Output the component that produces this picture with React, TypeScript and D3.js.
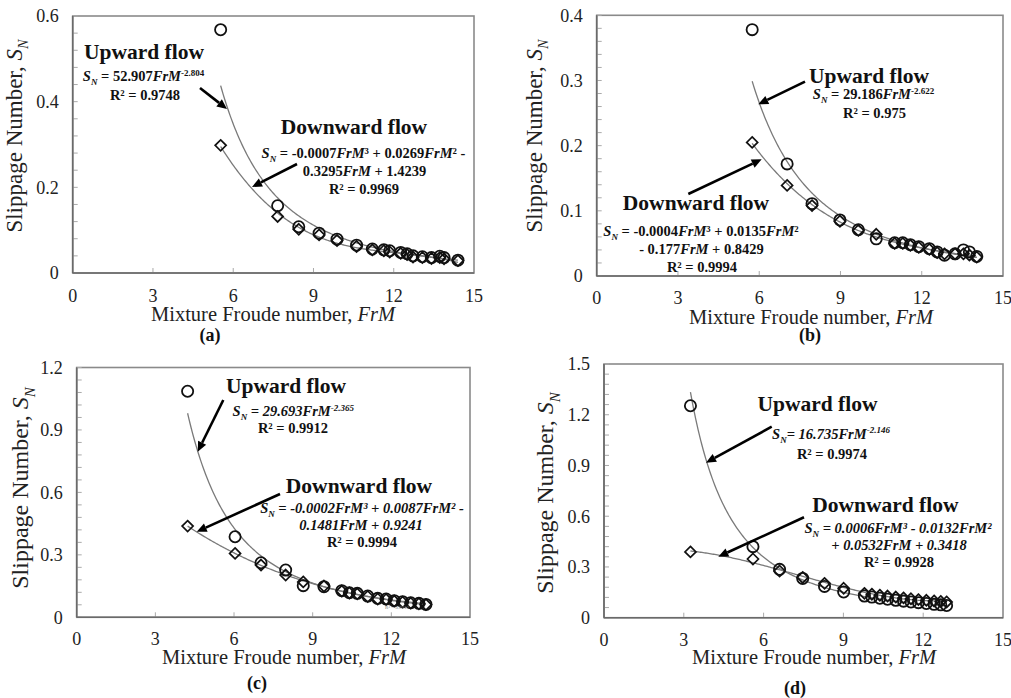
import React from 'react';
import * as d3 from 'd3';

// ---------- data ----------
const xTickValues = [0, 3, 6, 9, 12, 15];

const aYTicks = [0, 0.2, 0.4, 0.6];
const aX = [5.53, 7.66, 8.45, 9.21, 9.88, 10.61, 11.2, 11.63, 11.85, 12.26, 12.5, 12.72, 13.07, 13.41, 13.72, 13.88, 14.4];
const aUpY = [0.568, 0.157, 0.108, 0.093, 0.079, 0.065, 0.056, 0.054, 0.052, 0.048, 0.045, 0.040, 0.038, 0.036, 0.039, 0.036, 0.030];
const aDownY = [0.298, 0.132, 0.102, 0.089, 0.076, 0.062, 0.054, 0.052, 0.049, 0.046, 0.043, 0.037, 0.036, 0.034, 0.036, 0.033, 0.029];
const aPower = [52.907, -2.804];

const bYTicks = [0, 0.1, 0.2, 0.3, 0.4];
const bX = [5.74, 7.03, 7.95, 8.98, 9.66, 10.32, 11.0, 11.3, 11.58, 11.89, 12.28, 12.57, 12.84, 13.23, 13.54, 13.76, 14.03];
const bUpY = [0.378, 0.172, 0.111, 0.086, 0.071, 0.057, 0.051, 0.051, 0.048, 0.045, 0.042, 0.037, 0.032, 0.034, 0.040, 0.037, 0.030];
const bDownY = [0.205, 0.139, 0.108, 0.084, 0.070, 0.064, 0.050, 0.050, 0.047, 0.044, 0.041, 0.036, 0.034, 0.034, 0.034, 0.032, 0.029];
const bPower = [29.186, -2.622];

const cYTicks = [0, 0.3, 0.6, 0.9, 1.2];
const cX = [4.23, 6.04, 7.03, 7.97, 8.64, 9.43, 10.11, 10.4, 10.7, 11.1, 11.48, 11.8, 12.11, 12.43, 12.74, 13.05, 13.32];
const cUpY = [1.086, 0.387, 0.262, 0.227, 0.152, 0.147, 0.128, 0.118, 0.115, 0.102, 0.091, 0.088, 0.080, 0.075, 0.070, 0.067, 0.062];
const cDownY = [0.438, 0.307, 0.251, 0.203, 0.170, 0.150, 0.126, 0.117, 0.113, 0.100, 0.088, 0.086, 0.078, 0.073, 0.068, 0.065, 0.061];
const cPower = [29.693, -2.365];

const dYTicks = [0, 0.3, 0.6, 0.9, 1.2, 1.5];
const dX = [3.25, 5.6, 6.6, 7.47, 8.29, 9.01, 9.79, 10.07, 10.37, 10.66, 10.97, 11.26, 11.54, 11.82, 12.12, 12.41, 12.66, 12.88];
const dUpY = [1.253, 0.42, 0.286, 0.232, 0.185, 0.152, 0.128, 0.122, 0.115, 0.109, 0.103, 0.098, 0.093, 0.089, 0.084, 0.079, 0.076, 0.072];
const dDownY = [0.389, 0.347, 0.276, 0.238, 0.203, 0.174, 0.144, 0.139, 0.133, 0.128, 0.122, 0.117, 0.112, 0.107, 0.103, 0.099, 0.096, 0.093];
const dPower = [16.735, -2.146];

const panelLabels = ['(a)', '(b)', '(c)', '(d)'];
const xTitle = 'Mixture Froude number, ';
const yTitle = 'Slippage Number, ';

// ---------- helpers ----------
function cubicFit(xs: number[], ys: number[]) {
  const mx = d3.mean(xs) as number;
  const sx = (d3.deviation(xs) as number) || 1;
  const n = 4;
  const A = Array.from({ length: n }, () => new Array(n).fill(0));
  const B = new Array(n).fill(0);
  xs.forEach((x, i) => {
    const t = (x - mx) / sx;
    const p = [1, t, t * t, t * t * t];
    for (let j = 0; j < n; j++) {
      B[j] += p[j] * ys[i];
      for (let k = 0; k < n; k++) A[j][k] += p[j] * p[k];
    }
  });
  for (let c = 0; c < n; c++) {
    let piv = c;
    for (let r = c + 1; r < n; r++) if (Math.abs(A[r][c]) > Math.abs(A[piv][c])) piv = r;
    [A[c], A[piv]] = [A[piv], A[c]];
    [B[c], B[piv]] = [B[piv], B[c]];
    for (let r = c + 1; r < n; r++) {
      const f = A[r][c] / A[c][c];
      for (let k = c; k < n; k++) A[r][k] -= f * A[c][k];
      B[r] -= f * B[c];
    }
  }
  const coef = new Array(n).fill(0);
  for (let r = n - 1; r >= 0; r--) {
    let s = B[r];
    for (let k = r + 1; k < n; k++) s -= A[r][k] * coef[k];
    coef[r] = s / A[r][r];
  }
  return (x: number) => {
    const t = (x - mx) / sx;
    return coef[0] + coef[1] * t + coef[2] * t * t + coef[3] * t * t * t;
  };
}

type Piece = { t: string; i?: boolean; sub?: boolean; sup?: boolean };

const FONT = "'Liberation Serif', 'Times New Roman', serif";

function Rich({ x, y, size, pieces, bold = true, italicAll = false, anchor = 'middle', fill = '#111', rotate = 0 }: any) {
  let shift = 0;
  return (
    <text
      x={rotate ? 0 : x}
      y={rotate ? 0 : y}
      transform={rotate ? `translate(${x},${y}) rotate(${rotate})` : undefined}
      textAnchor={anchor}
      fontFamily={FONT}
      fontWeight={bold ? 'bold' : 'normal'}
      fontSize={size}
      fill={fill}
      style={{ whiteSpace: 'pre' }}
    >
      {pieces.map((p: Piece, k: number) => {
        const target = p.sub ? size * 0.28 : p.sup ? -size * 0.35 : 0;
        const dy = target - shift;
        shift = target;
        return (
          <tspan key={k} dy={dy} fontStyle={p.i || italicAll ? 'italic' : 'normal'} fontSize={p.sub || p.sup ? size * 0.62 : size}>
            {p.t}
          </tspan>
        );
      })}
    </text>
  );
}

const SN: Piece[] = [{ t: 'S', i: true }, { t: 'N', i: true, sub: true }];

function Arrow({ x1, y1, x2, y2 }: any) {
  const ang = Math.atan2(y2 - y1, x2 - x1);
  const L = 10, W = 4.5;
  const bx = x2 - L * Math.cos(ang), by = y2 - L * Math.sin(ang);
  const px = -Math.sin(ang) * W, py = Math.cos(ang) * W;
  return (
    <g>
      <line x1={x1} y1={y1} x2={bx} y2={by} stroke="#000" strokeWidth={2.6} />
      <path d={`M${x2},${y2}L${bx + px},${by + py}L${bx - px},${by - py}Z`} fill="#000" />
    </g>
  );
}

// ---------- panels ----------
const panels = [
  {
    left: 72.7, right: 474, top: 16, bottom: 273, yMax: 0.6, yTicks: aYTicks, minor: 0.04,
    xs: aX, up: aUpY, down: aDownY, pow: aPower, xLabOff: 29,
    xTitleX: 273, xTitleY: 321, yTitleX: 22, yTitleY: 136, yTitleSize: 23, labX: 210, labY: 341,
    upHead: { x: 144, y: 59 }, downHead: { x: 354, y: 134 }, italic: false,
    upEq: [{ x: 143.5, y: 81, p: [...SN, { t: ' = 52.907' }, { t: 'FrM', i: true }, { t: '-2.804', sup: true }] }, { x: 145, y: 100, p: [{ t: 'R² = 0.9748' }] }],
    downEq: [
      { x: 363.5, y: 157.5, p: [...SN, { t: ' = -0.0007' }, { t: 'FrM', i: true }, { t: '³ + 0.0269' }, { t: 'FrM', i: true }, { t: '² -' }] },
      { x: 364.5, y: 175.5, p: [{ t: '0.3295' }, { t: 'FrM', i: true }, { t: ' + 1.4239' }] },
      { x: 364, y: 193.5, p: [{ t: 'R² = 0.9969' }] },
    ],
    arrows: [[200, 88, 227, 109], [297, 164, 252, 187]],
  },
  {
    left: 596.7, right: 1003, top: 15.3, bottom: 276, yMax: 0.4, yTicks: bYTicks, minor: 0.02,
    xs: bX, up: bUpY, down: bDownY, pow: bPower, xLabOff: 28,
    xTitleX: 811, xTitleY: 323.5, yTitleX: 542, yTitleY: 136, yTitleSize: 23, labX: 810, labY: 341,
    upHead: { x: 869, y: 83 }, downHead: { x: 696, y: 210 }, italic: false,
    upEq: [{ x: 873.5, y: 99, p: [...SN, { t: ' = 29.186' }, { t: 'FrM', i: true }, { t: '-2.622', sup: true }] }, { x: 874.5, y: 118, p: [{ t: 'R² = 0.975' }] }],
    downEq: [
      { x: 701, y: 235.5, p: [...SN, { t: ' = -0.0004' }, { t: 'FrM', i: true }, { t: '³ + 0.0135' }, { t: 'FrM', i: true }, { t: '²' }] },
      { x: 701.5, y: 253.5, p: [{ t: '- 0.177' }, { t: 'FrM', i: true }, { t: ' + 0.8429' }] },
      { x: 702, y: 272, p: [{ t: 'R² = 0.9994' }] },
    ],
    arrows: [[805, 81.7, 758.3, 104.3], [688.3, 194, 761.7, 159.3]],
  },
  {
    left: 76.7, right: 470, top: 367.5, bottom: 617.3, yMax: 1.2, yTicks: cYTicks, minor: 0.06,
    xs: cX, up: cUpY, down: cDownY, pow: cPower, xLabOff: 28,
    xTitleX: 284, xTitleY: 663.5, yTitleX: 28, yTitleY: 488, yTitleSize: 24, labX: 257, labY: 689,
    upHead: { x: 286, y: 393 }, downHead: { x: 359, y: 493 }, italic: true,
    upEq: [{ x: 293.3, y: 416, p: [...SN, { t: ' = 29.693FrM' }, { t: '-2.365', sup: true }] }, { x: 293, y: 432.5, p: [{ t: 'R² = 0.9912' }], up: true }],
    downEq: [
      { x: 362, y: 512.5, p: [...SN, { t: ' = -0.0002FrM³ + 0.0087FrM² -' }] },
      { x: 361, y: 530, p: [{ t: '0.1481FrM + 0.9241' }] },
      { x: 362, y: 547, p: [{ t: 'R² = 0.9994' }], up: true },
    ],
    arrows: [[223.3, 400, 197.7, 451.7], [280, 494, 196.7, 531.7]],
    tiny: { x: 397, y: 609, t: 'R² = 0.9912' },
  },
  {
    left: 604, right: 1003, top: 364, bottom: 617.7, yMax: 1.5, yTicks: dYTicks, minor: 0.06,
    xs: dX, up: dUpY, down: dDownY, pow: dPower, xLabOff: 28,
    xTitleX: 814, xTitleY: 664, yTitleX: 553, yTitleY: 493, yTitleSize: 24, labX: 795, labY: 694,
    upHead: { x: 817.5, y: 411 }, downHead: { x: 885.3, y: 512 }, italic: true,
    upEq: [{ x: 831, y: 438.5, p: [...SN, { t: '= 16.735FrM' }, { t: '-2.146', sup: true }] }, { x: 832, y: 458.5, p: [{ t: 'R² = 0.9974' }], up: true }],
    downEq: [
      { x: 898, y: 532.5, p: [...SN, { t: ' = 0.0006FrM³ - 0.0132FrM²' }] },
      { x: 899, y: 549.5, p: [{ t: '+ 0.0532FrM + 0.3418' }] },
      { x: 899, y: 567, p: [{ t: 'R² = 0.9928' }], up: true },
    ],
    arrows: [[771.7, 426.7, 706, 462.7], [804, 517.3, 718.3, 556.7]],
  },
];

function Panel({ cfg, label }: any) {
  const x = d3.scaleLinear().domain([0, 15]).range([cfg.left, cfg.right]);
  const y = d3.scaleLinear().domain([0, cfg.yMax]).range([cfg.bottom, cfg.top]);
  const xMin = d3.min(cfg.xs) as number, xMax = d3.max(cfg.xs) as number;
  const samples = d3.range(0, 201).map((i: number) => xMin + ((xMax - xMin) * i) / 200);
  const powF = (v: number) => cfg.pow[0] * Math.pow(v, cfg.pow[1]);
  const cubF = cubicFit(cfg.xs, cfg.down);
  const upPath = d3.line<number>().x((v) => x(v)).y((v) => y(powF(v)))(samples) as string;
  const downPath = d3.line<number>().x((v) => x(v)).y((v) => y(cubF(v)))(samples) as string;
  const minorTicks = d3.range(0, Math.round(cfg.yMax / cfg.minor) + 1).map((i: number) => i * cfg.minor);
  const s = 5.5;

  return (
    <g>
      <rect x={cfg.left} y={cfg.top} width={cfg.right - cfg.left} height={cfg.bottom - cfg.top} fill="#fff" stroke="#8a8a8a" strokeWidth={1.6} />
      {minorTicks.map((t: number, i: number) => (
        <line key={'m' + i} x1={cfg.left} x2={cfg.left + 5} y1={y(t)} y2={y(t)} stroke="#aaa" strokeWidth={1} />
      ))}
      {xTickValues.slice(1, -1).map((t) => (
        <line key={'xt' + t} x1={x(t)} x2={x(t)} y1={cfg.bottom} y2={cfg.bottom - 5} stroke="#aaa" strokeWidth={1} />
      ))}
      <line x1={cfg.left} x2={cfg.left} y1={cfg.top} y2={cfg.bottom} stroke="#6a6a6a" strokeWidth={1.6} />
      <line x1={cfg.left} x2={cfg.right} y1={cfg.bottom} y2={cfg.bottom} stroke="#6a6a6a" strokeWidth={1.6} />
      {cfg.yTicks.map((t: number) => (
        <text key={'yl' + t} x={cfg.left - 14} y={y(t)} dy="0.35em" textAnchor="end" fontFamily={FONT} fontSize={18} fill="#222">
          {String(t)}
        </text>
      ))}
      {xTickValues.map((t) => (
        <text key={'xl' + t} x={x(t)} y={cfg.bottom + cfg.xLabOff} textAnchor="middle" fontFamily={FONT} fontSize={18} fill="#222">
          {String(t)}
        </text>
      ))}
      <Rich x={cfg.xTitleX} y={cfg.xTitleY} size={20.5} bold={false} fill="#222" pieces={[{ t: xTitle }, { t: 'FrM', i: true }]} />
      <Rich x={cfg.yTitleX} y={cfg.yTitleY} size={cfg.yTitleSize} bold={false} fill="#222" rotate={-90} pieces={[{ t: yTitle }, ...SN]} />
      <text x={cfg.labX} y={cfg.labY} textAnchor="middle" fontFamily={FONT} fontWeight="bold" fontSize={18} fill="#111">
        {label}
      </text>

      <path d={upPath} fill="none" stroke="#7a7a7a" strokeWidth={1.3} />
      <path d={downPath} fill="none" stroke="#7a7a7a" strokeWidth={1.3} />

      {cfg.xs.map((v: number, i: number) => (
        <path
          key={'d' + i}
          d={`M${x(v)},${y(cfg.down[i]) - s}L${x(v) + s},${y(cfg.down[i])}L${x(v)},${y(cfg.down[i]) + s}L${x(v) - s},${y(cfg.down[i])}Z`}
          fill="none"
          stroke="#111"
          strokeWidth={1.7}
        />
      ))}
      {cfg.xs.map((v: number, i: number) => (
        <circle key={'c' + i} cx={x(v)} cy={y(cfg.up[i])} r={5.6} fill="none" stroke="#111" strokeWidth={1.8} />
      ))}

      <text x={cfg.upHead.x} y={cfg.upHead.y} textAnchor="middle" fontFamily={FONT} fontWeight="bold" fontSize={21.5} fill="#111">
        Upward flow
      </text>
      <text x={cfg.downHead.x} y={cfg.downHead.y} textAnchor="middle" fontFamily={FONT} fontWeight="bold" fontSize={21.5} fill="#111">
        Downward flow
      </text>
      {[...cfg.upEq, ...cfg.downEq].map((e: any, i: number) => (
        <Rich key={'e' + i} x={e.x} y={e.y} size={14.5} italicAll={cfg.italic && !e.up} pieces={e.p} />
      ))}
      {cfg.arrows.map((a: number[], i: number) => (
        <Arrow key={'a' + i} x1={a[0]} y1={a[1]} x2={a[2]} y2={a[3]} />
      ))}
      {cfg.tiny && (
        <text x={cfg.tiny.x} y={cfg.tiny.y} textAnchor="middle" fontFamily={FONT} fontSize={5} fill="#777">
          {cfg.tiny.t}
        </text>
      )}
    </g>
  );
}

export default function App() {
  return (
    <div style={{ position: 'absolute', left: 0, top: 0, width: 1011, height: 698, background: '#fff' }}>
      <svg width={1011} height={698} viewBox="0 0 1011 698" style={{ display: 'block' }}>
        <rect width={1011} height={698} fill="#fff" />
        {panels.map((p, i) => (
          <Panel key={i} cfg={p} label={panelLabels[i]} />
        ))}
      </svg>
    </div>
  );
}
